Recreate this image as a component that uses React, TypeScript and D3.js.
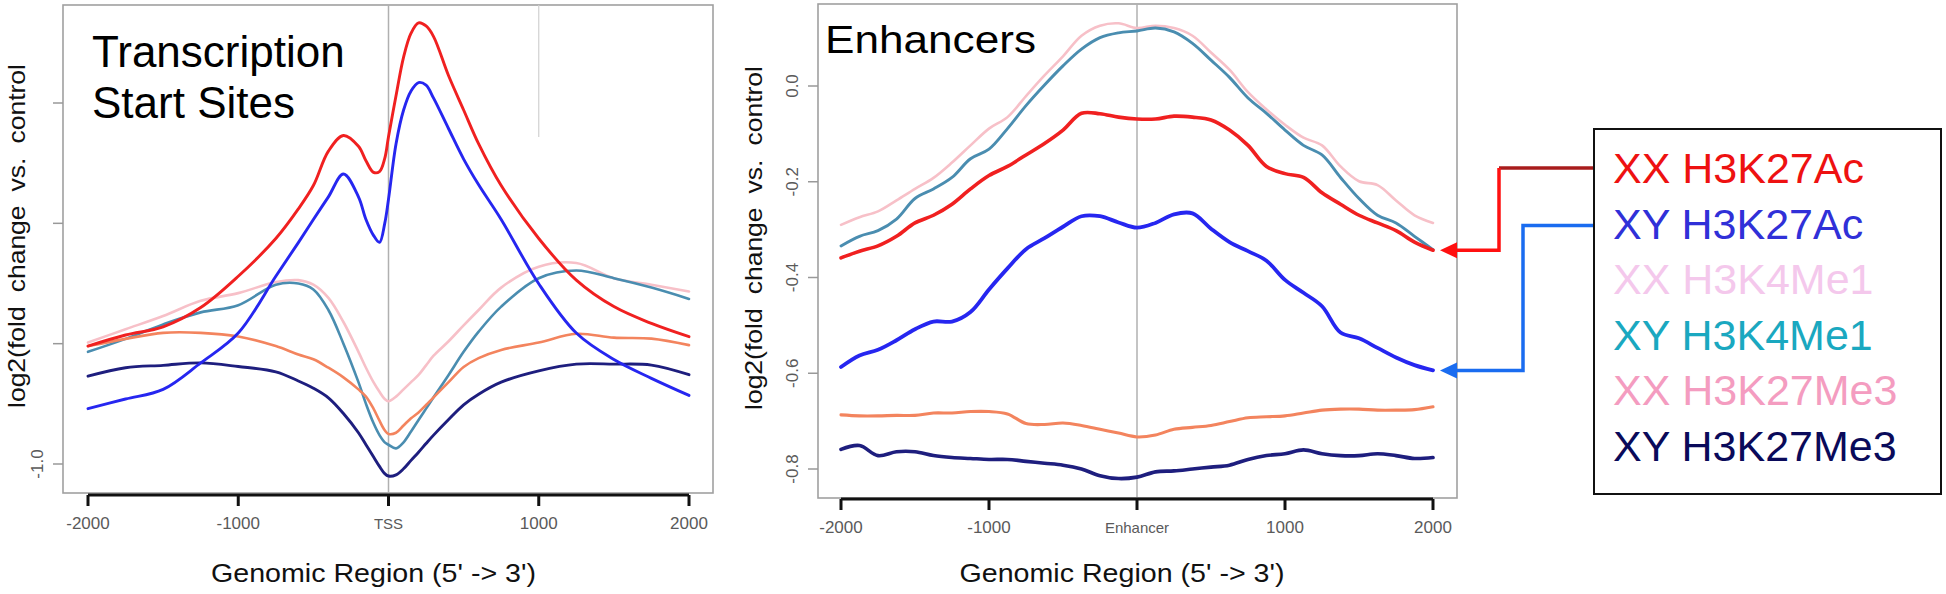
import React from 'react';
import * as d3 from 'd3';

const W = 1946;
const H = 594;
const FONT = "'Liberation Sans', Arial, Helvetica, sans-serif";

// ---- series ----
const SERIES = ['XX H3K27Ac', 'XY H3K27Ac', 'XX H3K4Me1', 'XY H3K4Me1', 'XX H3K27Me3', 'XY H3K27Me3'];
const LINE_COLORS = ['#f02020', '#2626f0', '#f7c0c8', '#4a8db0', '#f3845e', '#1e1e7e'];
const LEGEND_COLORS = ['#ee1111', '#3030d8', '#f4c8ec', '#1aa8c0', '#f49cc0', '#0a0a5a'];
const DRAW_ORDER = [2, 3, 4, 5, 0, 1];

// ---- TSS panel ----
const TSS_POS = [-2000, -1750, -1500, -1250, -1000, -750, -600, -500, -400, -300, -200, -150, -100, -60, -25, 0, 50, 100, 150, 200, 250, 300, 400, 500, 600, 750, 1000, 1250, 1500, 1750, 2000];
const tssXXAc = [-0.51, -0.464, -0.43, -0.35, -0.22, -0.063, 0.06, 0.157, 0.30, 0.365, 0.32, 0.26, 0.212, 0.215, 0.27, 0.36, 0.53, 0.69, 0.79, 0.833, 0.82, 0.776, 0.613, 0.471, 0.33, 0.157, -0.063, -0.236, -0.346, -0.416, -0.471];
const tssXYAc = [-0.77, -0.73, -0.69, -0.58, -0.456, -0.22, -0.08, 0.016, 0.11, 0.205, 0.11, 0.016, -0.05, -0.079, 0.0, 0.10, 0.33, 0.47, 0.55, 0.585, 0.574, 0.52, 0.393, 0.267, 0.16, 0.016, -0.251, -0.456, -0.566, -0.644, -0.715];
const tssXXMe1 = [-0.495, -0.44, -0.385, -0.322, -0.29, -0.244, -0.236, -0.255, -0.31, -0.41, -0.534, -0.60, -0.66, -0.70, -0.73, -0.739, -0.72, -0.69, -0.66, -0.63, -0.59, -0.55, -0.49, -0.424, -0.36, -0.267, -0.18, -0.165, -0.228, -0.255, -0.283];
const tssXYMe1 = [-0.534, -0.48, -0.42, -0.37, -0.34, -0.255, -0.25, -0.275, -0.36, -0.50, -0.66, -0.75, -0.83, -0.88, -0.91, -0.92, -0.935, -0.91, -0.865, -0.817, -0.77, -0.723, -0.63, -0.534, -0.45, -0.346, -0.228, -0.196, -0.228, -0.267, -0.314];
const tssXXMe3 = [-0.51, -0.48, -0.455, -0.455, -0.47, -0.51, -0.545, -0.565, -0.60, -0.64, -0.69, -0.72, -0.77, -0.82, -0.86, -0.875, -0.87, -0.84, -0.81, -0.786, -0.755, -0.723, -0.66, -0.597, -0.56, -0.526, -0.495, -0.459, -0.475, -0.479, -0.506];
const tssXYMe3 = [-0.635, -0.60, -0.59, -0.58, -0.595, -0.617, -0.655, -0.685, -0.725, -0.79, -0.87, -0.92, -0.97, -1.01, -1.04, -1.05, -1.045, -1.02, -0.985, -0.951, -0.915, -0.88, -0.815, -0.754, -0.71, -0.66, -0.613, -0.585, -0.585, -0.589, -0.629];

// ---- Enhancer panel ----
const ENH_POS = [-2000, -1875, -1750, -1625, -1500, -1375, -1250, -1125, -1000, -875, -750, -625, -500, -375, -250, -125, 0, 125, 250, 375, 500, 625, 750, 875, 1000, 1125, 1250, 1375, 1500, 1625, 1750, 1875, 2000];
const enhXXAc = [-0.359, -0.345, -0.334, -0.314, -0.286, -0.270, -0.247, -0.215, -0.187, -0.168, -0.144, -0.120, -0.092, -0.057, -0.058, -0.065, -0.069, -0.069, -0.063, -0.065, -0.071, -0.092, -0.124, -0.168, -0.183, -0.191, -0.223, -0.247, -0.270, -0.286, -0.302, -0.326, -0.343];
const enhXYAc = [-0.587, -0.563, -0.551, -0.531, -0.508, -0.492, -0.492, -0.472, -0.425, -0.381, -0.341, -0.318, -0.294, -0.272, -0.272, -0.285, -0.296, -0.286, -0.268, -0.266, -0.298, -0.326, -0.345, -0.365, -0.405, -0.432, -0.460, -0.515, -0.527, -0.547, -0.567, -0.583, -0.594];
const enhXXMe1 = [-0.290, -0.274, -0.262, -0.239, -0.215, -0.192, -0.160, -0.124, -0.089, -0.065, -0.021, 0.022, 0.062, 0.105, 0.126, 0.131, 0.121, 0.126, 0.121, 0.105, 0.070, 0.034, -0.013, -0.049, -0.081, -0.108, -0.124, -0.168, -0.199, -0.207, -0.239, -0.270, -0.286];
const enhXYMe1 = [-0.334, -0.314, -0.302, -0.278, -0.235, -0.215, -0.191, -0.152, -0.132, -0.089, -0.041, 0.002, 0.042, 0.077, 0.101, 0.111, 0.115, 0.121, 0.113, 0.089, 0.054, 0.018, -0.025, -0.057, -0.092, -0.124, -0.144, -0.191, -0.235, -0.270, -0.286, -0.314, -0.342];
const enhXXMe3 = [-0.687, -0.689, -0.689, -0.688, -0.688, -0.683, -0.683, -0.680, -0.680, -0.685, -0.705, -0.707, -0.704, -0.709, -0.717, -0.725, -0.733, -0.729, -0.717, -0.713, -0.709, -0.701, -0.693, -0.691, -0.689, -0.683, -0.677, -0.675, -0.675, -0.677, -0.677, -0.676, -0.670];
const enhXYMe3 = [-0.759, -0.751, -0.772, -0.764, -0.764, -0.772, -0.776, -0.778, -0.780, -0.780, -0.784, -0.788, -0.792, -0.800, -0.814, -0.820, -0.817, -0.806, -0.804, -0.800, -0.796, -0.792, -0.780, -0.772, -0.768, -0.760, -0.768, -0.772, -0.772, -0.768, -0.772, -0.778, -0.776];

// ---- ticks ----
const X_TICKS = [-2000, -1000, 0, 1000, 2000];
const TSS_X_LABELS = ['-2000', '-1000', 'TSS', '1000', '2000'];
const ENH_X_LABELS = ['-2000', '-1000', 'Enhancer', '1000', '2000'];
const TSS_Y_TICKS = [0.5, 0, -0.5, -1.0];
const TSS_Y_LABELS = ['', '', '', '-1.0'];
const ENH_Y_TICKS = [0, -0.2, -0.4, -0.6, -0.8];
const ENH_Y_LABELS = ['0.0', '-0.2', '-0.4', '-0.6', '-0.8'];

const X_TITLE = "Genomic Region (5' -> 3')";
const Y_TITLE = 'log2(fold change vs. control';

type PanelProps = {
  pos: number[];
  series: number[][];
  box: { l: number; r: number; t: number; b: number };
  xRange: [number, number];
  yDomain: [number, number];
  yRange: [number, number];
  xLabels: string[];
  yTicks: number[];
  yLabels: string[];
  widths: number[];
  title: string[];
  titleX: number;
  titleY: number[];
  titleSize: number;
  titleLen?: number;
  axisY: number;
  yTitleX: number;
  extraLine?: boolean;
};

function Panel(p: PanelProps) {
  const x = d3.scaleLinear().domain([-2000, 2000]).range(p.xRange);
  const y = d3.scaleLinear().domain(p.yDomain).range(p.yRange);
  const line = d3
    .line<[number, number]>()
    .x((d) => x(d[0]))
    .y((d) => y(d[1]))
    .curve(d3.curveCatmullRom.alpha(0.5));
  const { l, r, t, b } = p.box;
  const cx = x(0);
  return (
    <g>
      <rect x={l} y={t} width={r - l} height={b - t} fill="none" stroke="#a0a0a0" strokeWidth={1.6} />
      <line x1={cx} x2={cx} y1={t} y2={p.axisY} stroke="#b0b0b0" strokeWidth={1.5} />
      {p.extraLine && <line x1={x(1000)} x2={x(1000)} y1={t} y2={137} stroke="#d0d0d0" strokeWidth={1.2} />}
      {DRAW_ORDER.map((i) => (
        <path
          key={i}
          d={line(p.pos.map((v, k) => [v, p.series[i][k]] as [number, number])) || ''}
          fill="none"
          stroke={LINE_COLORS[i]}
          strokeWidth={p.widths[i]}
          strokeLinejoin="round"
          strokeLinecap="round"
        />
      ))}
      {/* x axis */}
      <line x1={x(-2000)} x2={x(2000)} y1={p.axisY} y2={p.axisY} stroke="#111" strokeWidth={3} />
      {X_TICKS.map((v, i) => (
        <g key={v}>
          <line x1={x(v)} x2={x(v)} y1={p.axisY} y2={p.axisY + 11} stroke="#111" strokeWidth={3} />
          <text
            x={x(v)}
            y={p.axisY + 34}
            textAnchor="middle"
            fontSize={i === 2 ? 15 : 17}
            fill="#5a5a5a"
            fontFamily={FONT}
          >
            {p.xLabels[i]}
          </text>
        </g>
      ))}
      {/* y ticks */}
      {p.yTicks.map((v, i) => (
        <g key={v}>
          <line x1={l - 10} x2={l} y1={y(v)} y2={y(v)} stroke="#999" strokeWidth={1.5} />
          {p.yLabels[i] && (
            <text
              transform={`translate(${l - 20},${y(v)}) rotate(-90)`}
              textAnchor="middle"
              fontSize={17}
              fill="#5a5a5a"
              fontFamily={FONT}
            >
              {p.yLabels[i]}
            </text>
          )}
        </g>
      ))}
      {/* titles */}
      {p.title.map((s, i) => (
        <text
          key={s}
          x={p.titleX}
          y={p.titleY[i]}
          fontSize={p.titleSize}
          fill="#000"
          fontFamily={FONT}
          textLength={p.titleLen}
          lengthAdjust={p.titleLen ? 'spacingAndGlyphs' : undefined}
        >
          {s}
        </text>
      ))}
      {/* axis titles */}
      <text
        x={(p.xRange[0] + p.xRange[1]) / 2 - 15}
        y={582}
        textAnchor="middle"
        fontSize={26}
        fill="#111"
        fontFamily={FONT}
        textLength={325}
        lengthAdjust="spacingAndGlyphs"
      >
        {X_TITLE}
      </text>
      <text
        transform={`translate(${p.yTitleX},${(t + b) / 2 - 13}) rotate(-90)`}
        textAnchor="middle"
        fontSize={24}
        fill="#111"
        fontFamily={FONT}
        textLength={344}
        lengthAdjust="spacingAndGlyphs"
        wordSpacing={6}
      >
        {Y_TITLE}
      </text>
    </g>
  );
}

export default function App() {
  const tssSeries = [tssXXAc, tssXYAc, tssXXMe1, tssXYMe1, tssXXMe3, tssXYMe3];
  const enhSeries = [enhXXAc, enhXYAc, enhXXMe1, enhXYMe1, enhXXMe3, enhXYMe3];

  const enhY = d3.scaleLinear().domain([0, -0.8]).range([86, 469]);
  const redY = enhY(enhXXAc[enhXXAc.length - 1]);
  const blueY = enhY(enhXYAc[enhXYAc.length - 1]);

  const legendX = 1594;
  const legendTop = 129;
  const legendRowY = [183, 238.5, 294, 349.5, 405, 460.5];

  const arrowTip = 1440;
  const arrowHead = (yy: number, color: string) => (
    <polygon points={`${arrowTip},${yy} ${arrowTip + 17},${yy - 8} ${arrowTip + 17},${yy + 8}`} fill={color} />
  );

  return (
    <svg
      width={W}
      height={H}
      viewBox={`0 0 ${W} ${H}`}
      style={{ position: 'absolute', left: 0, top: 0, display: 'block', background: '#fff' }}
    >
      <rect x={0} y={0} width={W} height={H} fill="#fff" />
      <Panel
        pos={TSS_POS}
        series={tssSeries}
        box={{ l: 63, r: 713, t: 5, b: 493 }}
        xRange={[88, 689]}
        yDomain={[0.5, -1.0]}
        yRange={[103, 464]}
        xLabels={TSS_X_LABELS}
        yTicks={TSS_Y_TICKS}
        yLabels={TSS_Y_LABELS}
        widths={[2.9, 2.9, 2.6, 2.6, 2.6, 2.9]}
        title={['Transcription', 'Start Sites']}
        titleX={92}
        titleY={[67, 118]}
        titleSize={44}
        axisY={495}
        yTitleX={25}
        extraLine
      />
      <Panel
        pos={ENH_POS}
        series={enhSeries}
        box={{ l: 818, r: 1457, t: 4, b: 498 }}
        xRange={[841, 1433]}
        yDomain={[0, -0.8]}
        yRange={[86, 469]}
        xLabels={ENH_X_LABELS}
        yTicks={ENH_Y_TICKS}
        yLabels={ENH_Y_LABELS}
        widths={[3.6, 3.8, 2.6, 2.9, 3.1, 3.6]}
        title={['Enhancers']}
        titleX={825}
        titleY={[53]}
        titleSize={38}
        titleLen={211}
        axisY={499}
        yTitleX={762}
      />

      {/* arrows */}
      <path d={`M${legendX},${legendRowY[0] - 15} H1499`} stroke="#a81c1c" strokeWidth={3.5} fill="none" />
      <path d={`M1499,${legendRowY[0] - 15} V${redY} H${arrowTip + 12}`} stroke="#ff1010" strokeWidth={3.5} fill="none" />
      {arrowHead(redY, '#ff1010')}
      <path d={`M${legendX},${legendRowY[1] - 13} H1523 V${blueY} H${arrowTip + 12}`} stroke="#1a6cf0" strokeWidth={3.5} fill="none" />
      {arrowHead(blueY, '#1a6cf0')}

      {/* legend */}
      <rect x={legendX} y={legendTop} width={347} height={365} fill="#fff" stroke="#111" strokeWidth={2} />
      {SERIES.map((s, i) => (
        <text key={s} x={1613} y={legendRowY[i]} fontSize={43} fill={LEGEND_COLORS[i]} fontFamily={FONT}>
          {s}
        </text>
      ))}
    </svg>
  );
}
